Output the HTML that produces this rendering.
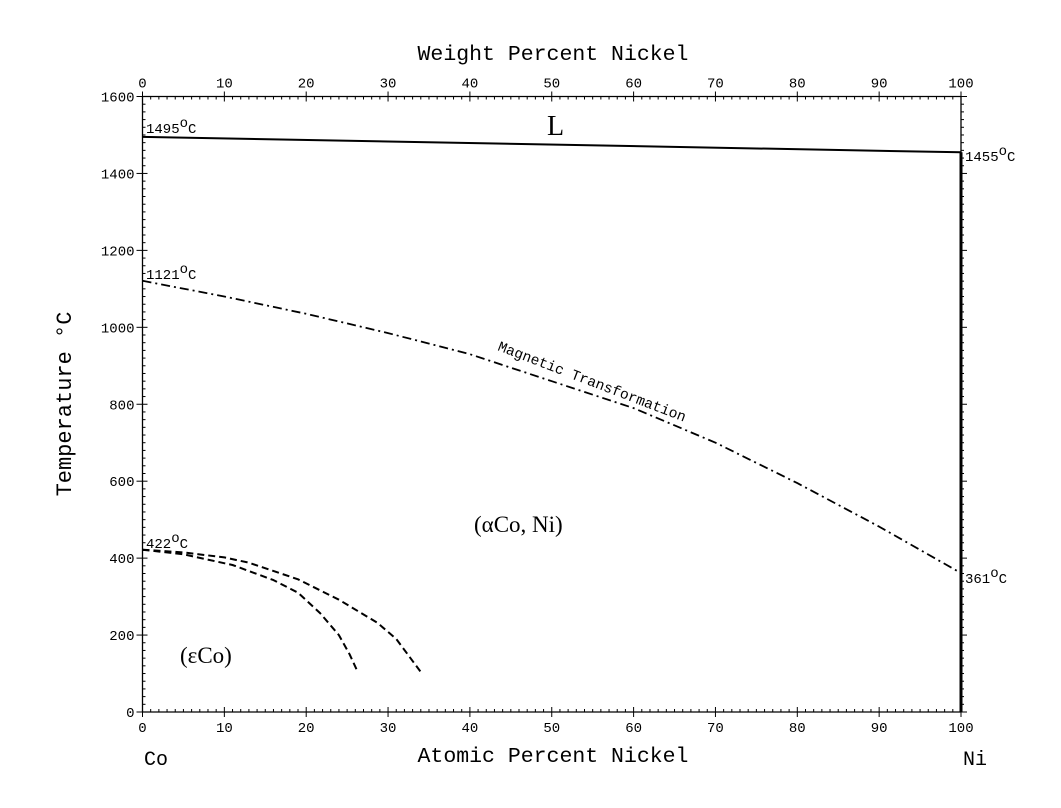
<!DOCTYPE html>
<html><head><meta charset="utf-8"><style>
html,body{margin:0;padding:0;background:#fff;}
svg text{font-family:"Liberation Mono",monospace;fill:#000;}
.serif{font-family:"Liberation Serif",serif !important;}
</style></head><body>
<svg id="chart" width="1061" height="803" xmlns="http://www.w3.org/2000/svg">
<g id="axes"></g>
<g id="curves"></g>
<text x="553" y="60" font-size="21.5" text-anchor="middle">Weight Percent Nickel</text>
<text x="553" y="762" font-size="21.5" text-anchor="middle">Atomic Percent Nickel</text>
<text transform="translate(71,404) rotate(-90)" font-size="22" text-anchor="middle">Temperature °C</text>
<text x="144" y="765" font-size="20">Co</text>
<text x="963" y="765" font-size="20">Ni</text>
<text class="serif" x="547" y="135" font-size="28">L</text>
<text class="serif" x="474" y="532" font-size="23">(αCo, Ni)</text>
<text class="serif" x="180" y="663" font-size="23">(εCo)</text>
<text transform="translate(497,350) rotate(21)" font-size="14.5">Magnetic Transformation</text>
<text x="146" y="133" font-size="14">1495<tspan dy="-6">o</tspan><tspan dy="6">C</tspan></text>
<text x="146" y="279" font-size="14">1121<tspan dy="-6">o</tspan><tspan dy="6">C</tspan></text>
<text x="146" y="548" font-size="14">422<tspan dy="-6">o</tspan><tspan dy="6">C</tspan></text>
<text x="965" y="161" font-size="14">1455<tspan dy="-6">o</tspan><tspan dy="6">C</tspan></text>
<text x="965" y="583" font-size="14">361<tspan dy="-6">o</tspan><tspan dy="6">C</tspan></text>
</svg>
<script>
const xTicks=[0,10,20,30,40,50,60,70,80,90,100];
const yTicks=[0,200,400,600,800,1000,1200,1400,1600];
const liquidusX=[0,100];
const liquidusT=[1495,1455];
const magX=[0,10,20,30,40,50,60,70,80,90,100];
const magT=[1121,1080,1035,985,930,860,790,700,595,482,361];
const innerX=[0,5,11,16,19,21.7,24,25.3,26.2];
const innerT=[422,410,382,343,310,257,200,150,109];
const outerX=[0,5,10,13,19,24,28.7,31,34];
const outerT=[422,415,402,388,345,292,232,190,104];
const X0=142.5,X1=961,Y0=712,Y1=96.5;
const sx=v=>X0+(X1-X0)*v/100;
const sy=t=>Y0-(Y0-Y1)*t/1600;
const NS='http://www.w3.org/2000/svg';
const axes=document.getElementById('axes');
const curves=document.getElementById('curves');
function line(g,x1,y1,x2,y2,w){const l=document.createElementNS(NS,'line');l.setAttribute('x1',x1);l.setAttribute('y1',y1);l.setAttribute('x2',x2);l.setAttribute('y2',y2);l.setAttribute('stroke','#000');l.setAttribute('stroke-width',w||1);g.appendChild(l);return l;}
function txt(g,x,y,s,anchor){const t=document.createElementNS(NS,'text');t.setAttribute('x',x);t.setAttribute('y',y);t.setAttribute('font-size','14');t.setAttribute('text-anchor',anchor);t.textContent=s;g.appendChild(t);return t;}
let fr=line(axes,X0,Y1,X1,Y1,1.3);
fr=line(axes,X0,Y0,X1,Y0,1.3);
fr=line(axes,X0,Y1,X0,Y0,1.3);
fr=line(axes,X1,Y1,X1,Y0,1.3);
for(let i=0;i<=100;i++){const x=sx(i);const maj=i%10===0;
 if(maj){line(axes,x,Y1-5,x,Y1+5);line(axes,x,Y0-5,x,Y0+5);}else{line(axes,x,Y1,x,Y1+3);line(axes,x,Y0,x,Y0-3);}}
xTicks.forEach(v=>{let t=txt(axes,sx(v),Y1-9,String(v),'middle');
 t=txt(axes,sx(v),Y0+20,String(v),'middle');});
for(let v=0;v<=1600;v+=20){const y=sy(v);const maj=v%200===0;
 if(maj){line(axes,X0-6,y,X0+5,y);line(axes,X1,y,X1+6,y);}else{line(axes,X0,y,X0+3,y);line(axes,X1,y,X1+3,y);}}
yTicks.forEach(v=>{const t=txt(axes,X0-8,sy(v)+5,String(v),'end');});
function path(xs,ts,w,dash){const p=document.createElementNS(NS,'path');let d='';xs.forEach((x,i)=>{d+=(i?'L':'M')+sx(x).toFixed(1)+' '+sy(ts[i]).toFixed(1);});
 p.setAttribute('d',d);p.setAttribute('fill','none');p.setAttribute('stroke','#000');p.setAttribute('stroke-width',w);p.setAttribute('stroke-linejoin','round');if(dash)p.setAttribute('stroke-dasharray',dash);curves.appendChild(p);return p;}
let p=path(liquidusX,liquidusT,2,null);
p=path(magX,magT,1.8,'9 4 2 4');
p=path(innerX,innerT,2,'7 4');
p=path(outerX,outerT,2,'7 4');
p=path([100,100],[liquidusT[1],0],3,null);
</script>
</body></html>
